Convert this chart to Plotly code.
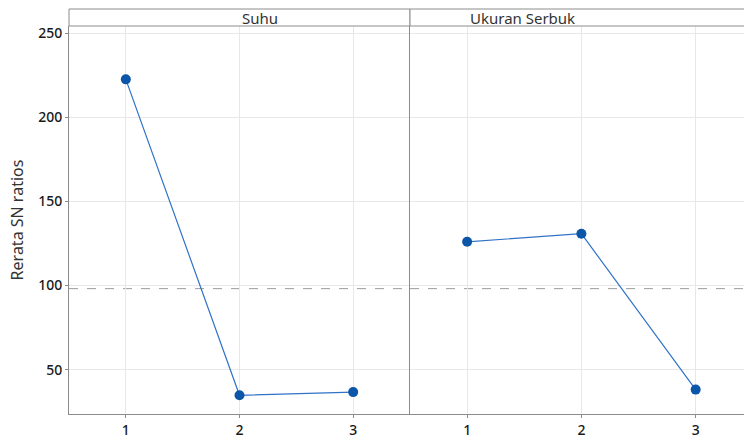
import plotly.graph_objects as go

levels = [1, 2, 3]
suhu = [222.5, 34.8, 36.7]
ukuran = [126.0, 130.8, 38.2]
panel_titles = ["Suhu", "Ukuran Serbuk"]
y_ticks = [50, 100, 150, 200, 250]
overall_mean = sum(suhu + ukuran) / 6

W, H = 744, 437
L, R, T, B = 69, 0, 26, 23
split = (410 - L) / (W - L - R)
strip_h = 17 / (H - T - B)

line_col = "#2f72c8"
marker_col = "#0b56a8"
axis_col = "#8c8c8c"
grid_col = "#e8e8e8"
font_fam = "Noto Sans, Open Sans, sans-serif"

fig = go.Figure()
for vals, xa, ya in [(suhu, "x", "y"), (ukuran, "x2", "y2")]:
    fig.add_trace(go.Scatter(
        x=levels, y=vals, xaxis=xa, yaxis=ya, mode="lines+markers",
        line=dict(color=line_col, width=1.2),
        marker=dict(color=marker_col, size=10),
        showlegend=False, hoverinfo="x+y"))

ax_common = dict(showgrid=True, gridcolor=grid_col, gridwidth=1, zeroline=False,
                 showline=True, linecolor=axis_col, linewidth=1,
                 ticks="outside", ticklen=3, tickcolor=axis_col,
                 tickfont=dict(family=font_fam, size=14, color="#1a1a1a", weight=500))

fig.update_layout(
    width=W, height=H,
    margin=dict(l=L, r=R, t=T, b=B, autoexpand=False),
    paper_bgcolor="white", plot_bgcolor="white",
    xaxis=dict(domain=[0, split], range=[0.5, 3.5], tickvals=levels, **ax_common),
    xaxis2=dict(domain=[split, 1], range=[0.5, 3.5 - (752.8 - 744) / 114.2],
                tickvals=levels, anchor="y2", **ax_common),
    yaxis=dict(range=[23.7, 254.2], tickvals=y_ticks, **ax_common,
               title=dict(text="Rerata SN ratios", standoff=10,
                          font=dict(family=font_fam, size=16, color="#333"))),
    yaxis2=dict(range=[23.7, 254.2], tickvals=y_ticks, anchor="x2",
                showticklabels=False, showgrid=True, gridcolor=grid_col,
                zeroline=False, showline=True, linecolor=axis_col, linewidth=1,
                ticks=""),
)

# reference mean lines
for xa, ya in [("x", "y"), ("x2", "y2")]:
    fig.add_shape(type="line", xref=f"{xa} domain", yref=ya, x0=0, x1=1,
                  y0=overall_mean, y1=overall_mean,
                  line=dict(color="#9a9a9a", width=1, dash="dash"), layer="below")

# strip boxes
for i, (x0, x1) in enumerate([(0, split), (split, 1)]):
    fig.add_shape(type="rect", xref="paper", yref="paper", x0=x0,
                  x1=(x1 if i == 0 else 1.02),
                  y0=1, y1=1 + strip_h, line=dict(color=axis_col, width=1),
                  fillcolor="white")
    fig.add_annotation(xref="paper", yref="paper", x=(x0 + x1) / 2, y=1 + strip_h / 2,
                       text=panel_titles[i], showarrow=False, yanchor="middle",
                       font=dict(family=font_fam, size=15, color="#333"))

fig.write_html("out.html", config={"displayModeBar": False},
               post_script="document.body.style.margin='0';document.body.style.overflow='hidden';")
